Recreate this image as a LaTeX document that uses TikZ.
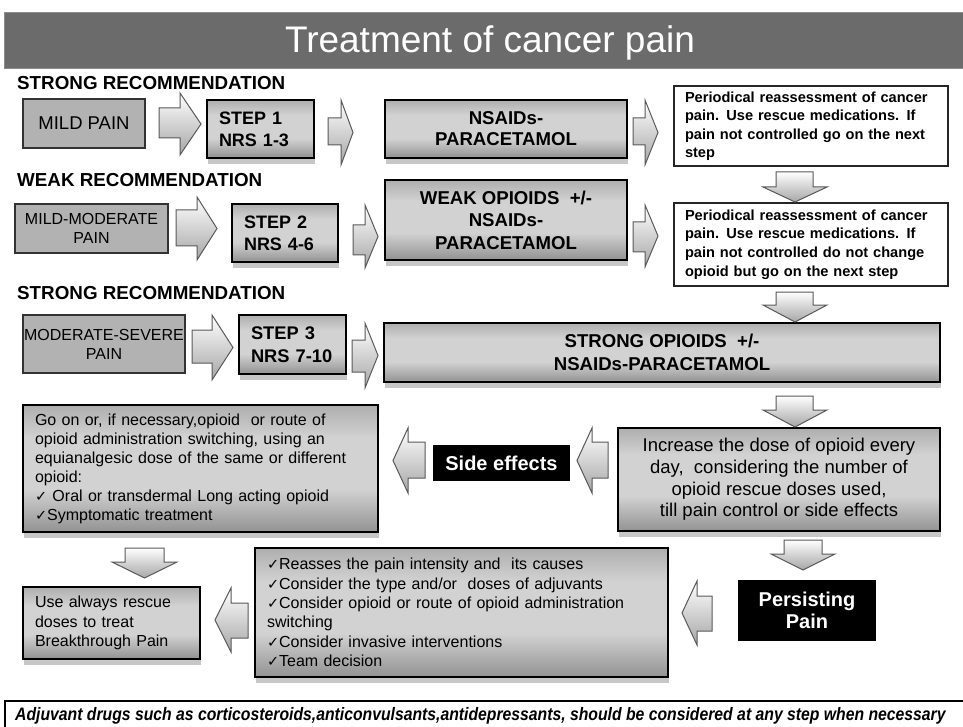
\documentclass[tikz,border=0pt]{standalone}
\usepackage{fontspec}
\usepackage{graphicx}
\setmainfont{Liberation Sans}
\newfontfamily\djv{DejaVu Sans}
\usetikzlibrary{shadows}
\definecolor{bannerc}{HTML}{6B6B6B}
\definecolor{mT}{HTML}{858585}
\definecolor{mM}{HTML}{D2D2D2}
\definecolor{mB}{HTML}{5A5A5A}
\pgfdeclareverticalshading{metal}{100bp}{color(0bp)=(mB); color(10bp)=(mB); color(42bp)=(mM); color(62bp)=(mM); color(90bp)=(mT); color(100bp)=(mT)}
\newcommand\fs[2]{\fontsize{#1}{#2}\selectfont}
\newcommand\ck{{\djv\fs{14.5}{14}✓}}
\newcommand\BOX[7]{%
  \pgfmathsetmacro\bw{#5-#3}\pgfmathsetmacro\bh{#6-#4}%
  \pgfmathsetmacro\bcx{(#3+#5)/2}\pgfmathsetmacro\bcy{(#4+#6)/2}%
  \node[#1, minimum width=\bw pt, minimum height=\bh pt] (#2) at (\bcx,\bcy) {#7};}
% right arrow: x1 y1 x2 y2 headx shafttop shaftbottom
\newcommand\RA[7]{\path[barrow] (#1,#6) -- (#5,#6) -- (#5,#2) -- (#3,{(#2+#4)/2}) -- (#5,#4) -- (#5,#7) -- (#1,#7) -- cycle;}
% left arrow: x1(tip) y1 x2 y2 headx shafttop shaftbottom
\newcommand\LA[7]{\path[barrow] (#3,#6) -- (#5,#6) -- (#5,#2) -- (#1,{(#2+#4)/2}) -- (#5,#4) -- (#5,#7) -- (#3,#7) -- cycle;}
% down arrow: x1 y1 x2 y2(tip) heady shaftleft shaftright
\newcommand\DA[7]{\path[barrow] (#6,#2) -- (#6,#5) -- (#1,#5) -- ({(#1+#3)/2},#4) -- (#3,#5) -- (#7,#5) -- (#7,#2) -- cycle;}
\begin{document}
\begin{tikzpicture}[x=1pt,y=-1pt,
  inbox/.style={draw=black!80, line width=1.3pt, fill=black!30, align=center, inner sep=0pt},
  metal/.style={draw=black, line width=2pt, shading=metal, inner sep=0pt,
     drop shadow={shadow xshift=1pt, shadow yshift=-6pt, fill=black!22, opacity=1}},
  wbox/.style={draw=black!85, line width=1.2pt, fill=white, inner sep=0pt, align=left},
  blk/.style={fill=black, text=white, inner sep=0pt, align=center, font=\bfseries\fs{20}{22}},
  barrow/.style={draw=black!65, line width=1pt, top color=white, bottom color=black!35},
  head/.style={anchor=base west, inner sep=0pt, font=\bfseries\fs{18.8}{20}}]
\useasboundingbox (0,0) rectangle (963,727);
\fill[white] (0,0) rectangle (963,727);
% banner
\BOX{fill=bannerc, draw=black!45, line width=0.8pt}{banner}{4}{12}{966}{68}{}
\node[anchor=base, text=white, inner sep=0pt, font=\fs{37}{40}] (title) at (490,53) {Treatment of cancer pain};
% headers
\node[head] (h1) at (17,90) {STRONG RECOMMENDATION};
\node[head] (h2) at (17,187) {WEAK RECOMMENDATION};
\node[head] (h3) at (17,299) {STRONG RECOMMENDATION};
% row 1
\BOX{inbox, font=\fs{18.5}{21}}{mild}{23}{99}{145}{148}{MILD PAIN}
\BOX{metal, text width=83pt, align=left, font=\bfseries\fs{18}{22}}{s1}{207}{100}{314}{158}{STEP 1\\NRS 1-3}
\BOX{metal, align=center, font=\bfseries\fs{18.6}{21}}{ns1}{385}{100}{627}{158}{NSAIDs-\\PARACETAMOL}
\BOX{wbox, text width=252pt, font=\bfseries\fs{14.6}{18.5}}{per1}{674}{86}{948}{166}{Periodical reassessment of cancer\\pain. Use rescue medications. If\\pain not controlled go on the next\\step}
% row 2
\BOX{inbox, font=\fs{16}{19}}{mildmod}{15}{204}{168}{253}{MILD-MODERATE\\PAIN}
\BOX{metal, text width=82pt, align=left, font=\bfseries\fs{18}{22}}{s2}{232}{204}{338}{262}{STEP 2\\NRS 4-6}
\BOX{metal, align=center, font=\bfseries\fs{18.6}{22.5}}{weak}{385}{180}{627}{260}{WEAK OPIOIDS\ \ +/-\\NSAIDs-\\PARACETAMOL}
\BOX{wbox, text width=252pt, font=\bfseries\fs{14.6}{18.7}}{per2}{674}{203}{948}{286}{Periodical reassessment of cancer\\pain. Use rescue medications. If\\pain not controlled do not change\\opioid but go on the next step}
% row 3
\BOX{inbox, font=\fs{16}{19}}{modsev}{23}{315}{185}{373}{MODERATE-SEVERE\\PAIN}
\BOX{metal, text width=83pt, align=left, font=\bfseries\fs{18.3}{23}}{s3}{239}{315}{346}{374}{STEP 3\\NRS 7-10}
\BOX{metal, align=center, font=\bfseries\fs{18.6}{23}}{strong}{384}{323}{940}{382}{STRONG OPIOIDS\ \ +/-\\NSAIDs-PARACETAMOL}
% row 4
\BOX{metal, text width=331pt, align=left, font=\fs{16}{19}}{goon}{23}{405}{378}{532}{Go on or, if necessary,opioid\ \ or route of\\opioid administration switching, using an\\equianalgesic dose of the same or different\\opioid:\\\ck\ Oral or transdermal Long acting opioid\\\ck{}Symptomatic treatment}
\BOX{blk}{side}{433}{445}{570}{481}{Side effects}
\BOX{metal, align=center, font=\fs{18.5}{21.7}}{incr}{618}{428}{940}{531}{Increase the dose of opioid every\\day,\ \ considering the number of\\opioid rescue doses used,\\till pain control or side effects}
% row 5
\BOX{metal, text width=153pt, align=left, font=\fs{16}{19.3}}{useal}{23}{587}{200}{659}{Use always rescue\\doses to treat\\Breakthrough Pain}
\BOX{metal, text width=389pt, align=left, font=\fs{16}{19.3}}{reass}{255}{548}{668}{677}{\ck{}Reasses the pain intensity and\ \ its causes\\\ck{}Consider the type and/or\ \ doses of adjuvants\\\ck{}Consider opioid or route of opioid administration\\switching\\\ck{}Consider invasive interventions\\\ck{}Team decision}
\BOX{blk}{persist}{738}{580}{876}{641}{Persisting\\Pain}
% bottom note
\BOX{draw=black, line width=1.5pt, fill=white}{notebox}{5}{701}{990}{760}{}
\node[anchor=base west, inner sep=0pt, font=\bfseries\itshape\fs{18}{20}] (note) at (15,720) {\scalebox{0.875}[1]{Adjuvant drugs such as corticosteroids,anticonvulsants,antidepressants, should be considered at any step when necessary}};
% block arrows
\RA{159}{93}{201}{155}{180}{108}{138}
\RA{328}{100}{353}{165}{341}{118}{145}
\RA{633}{100}{658}{165}{645}{118}{145}
\RA{176}{197}{217}{260}{197}{210}{246}
\RA{353}{205}{378}{268}{365}{225}{255}
\RA{633}{205}{658}{267}{645}{222}{252}
\RA{192}{315}{233}{380}{212}{330}{363}
\RA{352}{323}{378}{388}{365}{340}{372}
\DA{763}{172}{827}{202}{187}{776}{813}
\DA{763}{292}{827}{322}{305}{776}{813}
\DA{763}{396}{827}{427}{410}{776}{813}
\LA{393}{428}{425}{493}{408}{442}{478}
\LA{577}{428}{608}{493}{592}{442}{478}
\DA{112}{548}{177}{578}{562}{125}{164}
\DA{771}{540}{835}{570}{554}{784}{822}
\LA{215}{588}{248}{652}{231}{603}{638}
\LA{682}{581}{712}{645}{697}{596}{631}
\end{tikzpicture}
\end{document}
